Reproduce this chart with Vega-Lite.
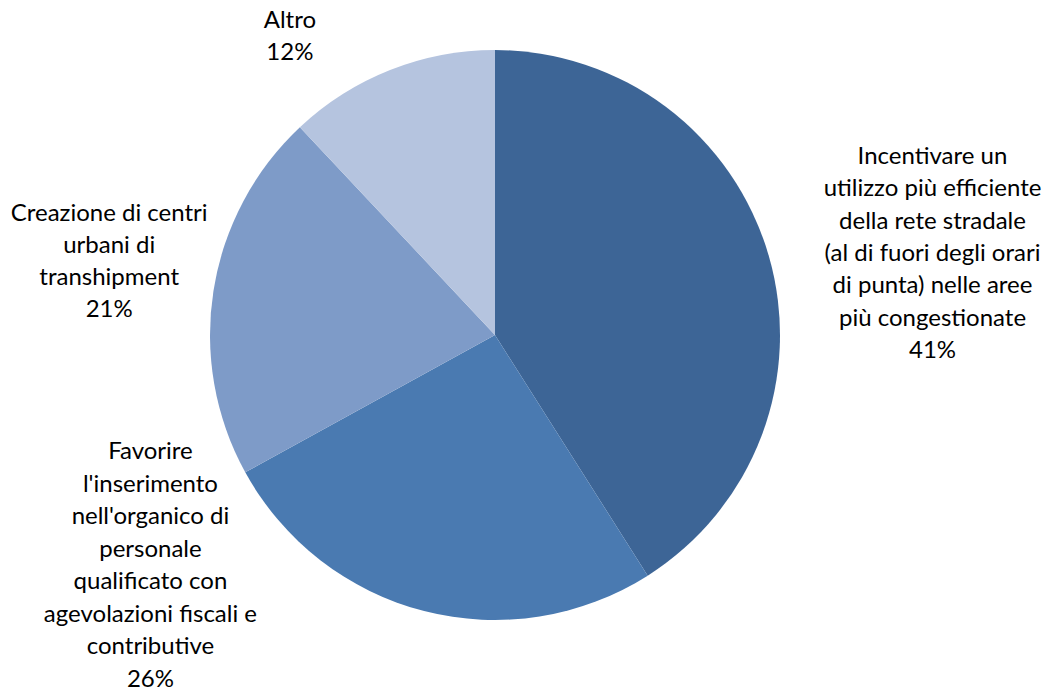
{
  "$schema": "https://vega.github.io/schema/vega-lite/v6.json",
  "autosize": {"type": "none"},
  "width": 990,
  "height": 670,
  "padding": {"left": 0, "top": 0, "right": 61, "bottom": 25},
  "background": "white",
  "config": {"view": {"stroke": null}},
  "data": {
    "values": [
      {"idx": 1, "cat": "Incentivare", "value": 41, "label": "Incentivare un\nutilizzo più efficiente\ndella rete stradale\n(al di fuori degli orari\ndi punta) nelle aree\npiù congestionate\n41%"},
      {"idx": 2, "cat": "Favorire", "value": 26, "label": "Favorire\nl'inserimento\nnell'organico di\npersonale\nqualificato con\nagevolazioni fiscali e\ncontributive\n26%"},
      {"idx": 3, "cat": "Creazione", "value": 21, "label": "Creazione di centri\nurbani di\ntranshipment\n21%"},
      {"idx": 4, "cat": "Altro", "value": 12, "label": "Altro\n12%"}
    ]
  },
  "encoding": {
    "theta": {"field": "value", "type": "quantitative", "stack": true},
    "order": {"field": "idx", "type": "quantitative"}
  },
  "layer": [
    {
      "mark": {"type": "arc", "outerRadius": 285},
      "encoding": {
        "color": {
          "field": "cat", "type": "nominal", "legend": null,
          "scale": {"domain": ["Incentivare", "Favorire", "Creazione", "Altro"], "range": ["#3D6596", "#4A7AB1", "#7E9BC8", "#B5C4DF"]}
        }
      }
    },
    {
      "mark": {"type": "text", "radius": 340, "dx": 111, "dy": -83, "lineBreak": "\n", "lineHeight": 32.3, "font": "Lato", "fontSize": 24, "align": "center", "baseline": "middle", "color": "#000000"},
      "encoding": {"text": {"condition": {"test": "datum.cat === 'Incentivare'", "field": "label"}, "value": ""}}
    },
    {
      "mark": {"type": "text", "radius": 340, "dx": -260, "dy": -212, "lineBreak": "\n", "lineHeight": 32.5, "font": "Lato", "fontSize": 24, "align": "center", "baseline": "middle", "color": "#000000"},
      "encoding": {"text": {"condition": {"test": "datum.cat === 'Favorire'", "field": "label"}, "value": ""}}
    },
    {
      "mark": {"type": "text", "radius": 340, "dx": -50, "dy": -68, "lineBreak": "\n", "lineHeight": 32, "font": "Lato", "fontSize": 24, "align": "center", "baseline": "middle", "color": "#000000"},
      "encoding": {"text": {"condition": {"test": "datum.cat === 'Creazione'", "field": "label"}, "value": ""}}
    },
    {
      "mark": {"type": "text", "radius": 340, "dx": -80, "dy": 2, "lineBreak": "\n", "lineHeight": 32, "font": "Lato", "fontSize": 24, "align": "center", "baseline": "middle", "color": "#000000"},
      "encoding": {"text": {"condition": {"test": "datum.cat === 'Altro'", "field": "label"}, "value": ""}}
    }
  ]
}
